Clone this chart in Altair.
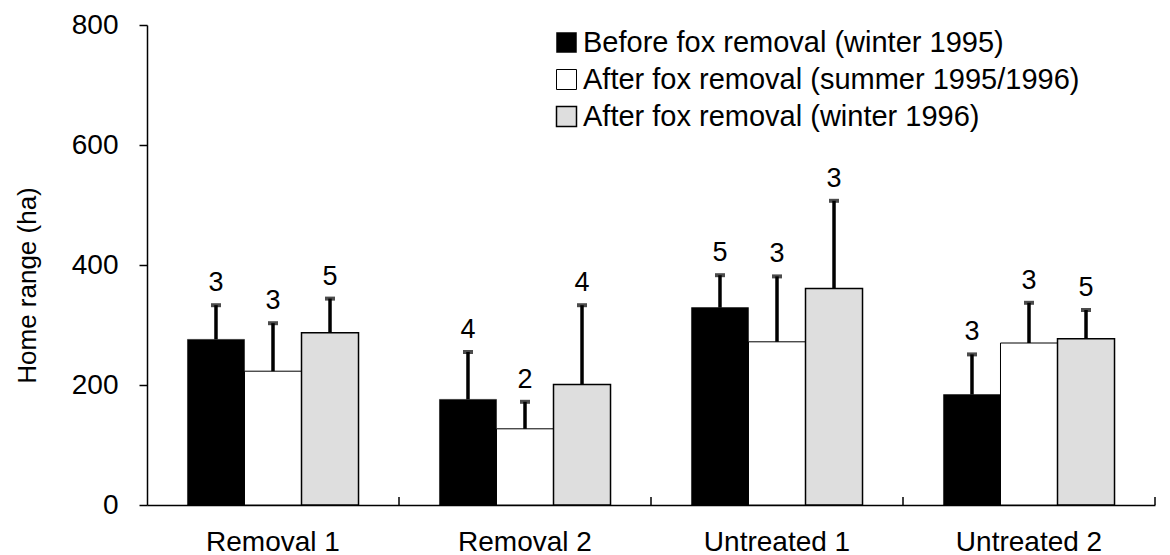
import altair as alt
import pandas as pd

categories = ["Removal 1", "Removal 2", "Untreated 1", "Untreated 2"]
series = [
    "Before fox removal (winter 1995)",
    "After fox removal (summer 1995/1996)",
    "After fox removal (winter 1996)",
]
before_mean = [276, 176, 329, 184]
before_se = [57, 79, 54, 67]
before_n = [3, 4, 5, 3]
summer_mean = [223, 127, 272, 270]
summer_se = [80, 45, 109, 67]
summer_n = [3, 2, 3, 3]
winter_mean = [287, 201, 361, 277]
winter_se = [57, 132, 146, 48]
winter_n = [5, 4, 3, 5]
y_ticks = [0, 200, 400, 600, 800]

fills = ["#000000", "#ffffff", "#dedede"]
strokes = ["#000000", "#000000", "#000000"]
stroke_widths = [0.5, 1.5, 4]
FONT = "Liberation Sans"

rows = []
for s, means, ses, ns in zip(series, [before_mean, summer_mean, winter_mean],
                             [before_se, summer_se, winter_se],
                             [before_n, summer_n, winter_n]):
    for c, m, e, n in zip(categories, means, ses, ns):
        rows.append({"cat": c, "series": s, "mean": m, "upper": m + e, "n": str(n)})
df = pd.DataFrame(rows)
tick_df = pd.DataFrame({"cat": categories})

x_axis = alt.Axis(title=None, ticks=False, tickSize=0, labelPadding=45, grid=False,
                  labelBaseline="alphabetic", labelAngle=0, labelFontSize=28)
y_axis = alt.Axis(values=y_ticks, tickSize=8, labelPadding=21, grid=False,
                  title="Home range (ha)", titleFontSize=26,
                  titleFontWeight="normal", titleX=-107, titleY=260,
                  labelFontSize=28)

x_enc = alt.X("cat:N", sort=categories,
              scale=alt.Scale(paddingInner=0, paddingOuter=0), axis=x_axis)
xoff = alt.XOffset("series:N", sort=series,
                   scale=alt.Scale(domain=series, paddingInner=0, paddingOuter=0.71))
y_scale = alt.Scale(domain=[0, 800])


def legend():
    return alt.Legend(orient="none", legendX=405, legendY=3,
                      symbolType="square", symbolSize=400,
                      labelFontSize=29, labelFont=FONT,
                      labelColor="black", rowPadding=7,
                      labelOffset=2, labelLimit=800)


base = alt.Chart(df).encode(x=x_enc, xOffset=xoff)

bars = base.mark_bar().encode(
    y=alt.Y("mean:Q", scale=y_scale, axis=y_axis),
    fill=alt.Fill("series:N", sort=series, title=None,
                  scale=alt.Scale(domain=series, range=fills), legend=legend()),
    stroke=alt.Stroke("series:N", sort=series, title=None,
                      scale=alt.Scale(domain=series, range=strokes), legend=legend()),
    strokeWidth=alt.StrokeWidth("series:N", sort=series, title=None,
                                scale=alt.Scale(domain=series, range=stroke_widths),
                                legend=legend()),
)

whiskers = base.mark_rule(color="black", strokeWidth=3.5).encode(
    y=alt.Y("mean:Q", scale=y_scale, axis=y_axis), y2="upper:Q")
caps = base.mark_tick(color="black", orient="horizontal", size=10, thickness=4).encode(
    y=alt.Y("upper:Q", scale=y_scale, axis=y_axis))
labels = base.mark_text(dy=-14, baseline="alphabetic", fontSize=27, font=FONT,
                        color="black").encode(
    y=alt.Y("upper:Q", scale=y_scale, axis=y_axis), text="n:N")

sep_ticks = alt.Chart(tick_df).mark_rule(color="black", strokeWidth=1.5).encode(
    x=alt.X("cat:N", sort=categories, bandPosition=1, axis=x_axis),
    y=alt.value(472), y2=alt.value(480))

chart = alt.layer(bars, whiskers, caps, labels, sep_ticks).properties(
    width=1008, height=480,
    autosize=alt.AutoSizeParams(type="none"),
    padding={"left": 139, "top": 17, "right": 7, "bottom": 50},
).configure(font=FONT).configure_axis(
    domainColor="black", domainWidth=1.5, tickColor="black", tickWidth=1.5,
    labelColor="black", titleColor="black", grid=False,
    labelFont=FONT, titleFont=FONT,
).configure_view(stroke="transparent")

chart.save("out.html", embed_options={"renderer": "svg", "actions": False})
